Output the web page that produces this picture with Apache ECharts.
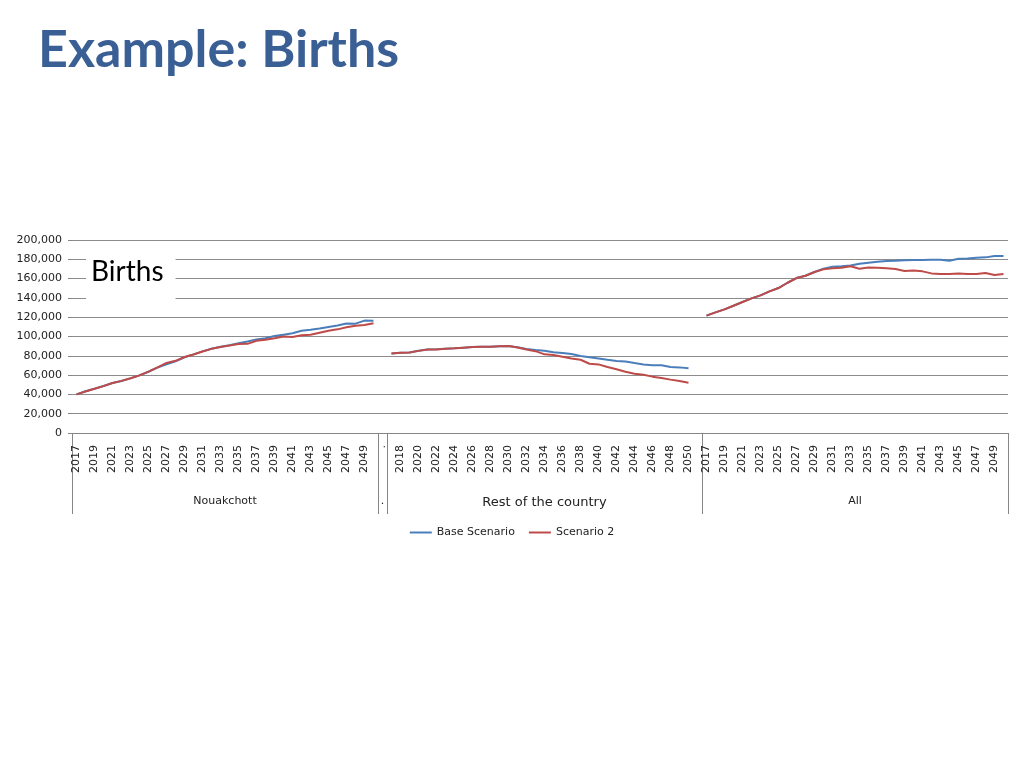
<!DOCTYPE html>
<html><head><meta charset="utf-8">
<script src="https://cdn.jsdelivr.net/npm/echarts@6/dist/echarts.min.js"></script>
<style>html,body{margin:0;padding:0;background:#fff}#c{width:1024px;height:768px}</style>
</head><body><div id="c"></div><script>
// ---- data ----
const years = ['2017','2018','2019','2020','2021','2022','2023','2024','2025','2026','2027','2028','2029','2030','2031','2032','2033','2034','2035','2036','2037','2038','2039','2040','2041','2042','2043','2044','2045','2046','2047','2048','2049','2050'];
const groupNames = ['Nouakchott', '.', 'Rest of the country', 'All'];
const seriesNames = ['Base Scenario', 'Scenario 2'];

const nkBase = [40000,43200,45900,48700,51800,53900,56600,59700,63500,67700,71200,74300,78500,81500,84600,87300,89300,91000,92900,94800,97000,98200,100500,101900,103300,106000,107000,108200,109800,111300,113400,113300,116500,116300];
const nkS2   = [40000,43000,45800,48600,51800,54000,56700,59700,63600,68000,72600,74800,78800,81400,84500,87200,89200,90600,92200,92400,95600,96700,98200,99900,99500,101300,101800,103900,106000,107400,109500,111200,112000,113800];

const restBase = [82500,83200,83500,85200,86500,86700,87300,87700,88400,89100,89400,89400,89800,90100,88800,87000,86000,85300,83600,82900,81800,79800,78400,77300,75900,74600,74200,72500,71100,70100,70100,68400,68000,67000];
const restS2   = [82500,83200,83400,85100,86500,86600,87300,87700,88400,89100,89400,89400,89800,90100,88600,86500,84800,81500,80800,79100,77300,75900,71800,71100,68400,66000,63500,61500,60400,58400,57000,55300,53900,52100];

const allBase = [121600,125000,128100,131900,135700,139500,142600,146800,150200,155700,160600,163000,166800,170300,172300,172700,173500,175400,176500,177500,178200,178500,178900,179200,179200,179600,179600,178500,180600,180900,181600,182000,183400,183400];
const allS2   = [121600,125000,128100,131900,135700,139500,142600,146800,150200,155700,160600,163000,166800,169600,170600,171300,172800,170300,171600,171300,170600,169900,167800,168500,167500,165400,164700,164700,165400,164700,164700,165800,163700,164700];

// ---- build axis / series from the arrays ----
const categories = years.concat(['.'], years, [''], years);
const baseData = nkBase.concat([null], restBase, [null], allBase);
const s2Data = nkS2.concat([null], restS2, [null], allS2);

const b1 = years.length, b2 = b1 + 1, b3 = b2 + years.length + 1, b4 = categories.length;
const groupStarts = [0, b1, b2, b3];
const groupCenters = [b1 / 2, (b1 + b2) / 2, (b2 + b3) / 2, (b3 + b4) / 2];

const FONT = 'DejaVu Sans';
const chart = echarts.init(document.getElementById('c'), null, {renderer: 'canvas'});
chart.setOption({
  animation: false,
  backgroundColor: '#ffffff',
  title: [
    {text: 'Example: Births', left: 33, top: 19,
     textStyle: {fontFamily: 'Lato', fontWeight: 'bold', fontSize: 52, color: '#3A5F94'}},
    {text: 'Births', left: 86, top: 246, padding: [12, 12, 17, 5], backgroundColor: '#ffffff',
     textStyle: {fontFamily: 'Lato', fontWeight: 'normal', fontSize: 28, color: '#000000'}}
  ],
  legend: {
    data: seriesNames, left: 'center', top: 522, icon: 'rect', itemWidth: 22, itemHeight: 2, itemGap: 14,
    textStyle: {fontFamily: FONT, fontSize: 11, color: '#222'}
  },
  grid: {left: 72, right: 16, top: 240, bottom: 335, containLabel: false},
  xAxis: [
    {
      type: 'category', data: categories, boundaryGap: true,
      axisLine: {show: true, lineStyle: {color: '#868686', width: 1}},
      axisTick: {show: true, length: 81, interval: function (i) { return groupStarts.indexOf(i) >= 0; },
                 lineStyle: {color: '#868686', width: 1}},
      axisLabel: {interval: function (i) { return i % 2 === 0; }, rotate: 90, margin: 12,
                  fontFamily: FONT, fontSize: 11, color: '#222'},
      splitLine: {show: false}
    },
    {
      type: 'value', min: 0, max: b4, position: 'bottom', offset: 55,
      axisLine: {show: false}, axisTick: {show: false}, splitLine: {show: false},
      axisLabel: {
        customValues: groupCenters, margin: 8, fontFamily: FONT, fontSize: 11, color: '#222',
        formatter: function (v) {
          const k = groupCenters.indexOf(v);
          if (k < 0) return '';
          return k === 2 ? '{big|' + groupNames[k] + '}' : groupNames[k];
        },
        rich: {big: {fontFamily: FONT, fontSize: 13, color: '#222'}}
      }
    }
  ],
  yAxis: {
    type: 'value', min: 0, max: 200000, interval: 20000,
    axisLine: {show: false},
    axisTick: {show: true, length: 4, lineStyle: {color: '#868686'}},
    axisLabel: {margin: 10, fontFamily: FONT, fontSize: 11, color: '#222',
                formatter: function (v) { return v.toLocaleString('en-US'); }},
    splitLine: {show: true, lineStyle: {color: '#8c8c8c', width: 1}}
  },
  series: [
    {name: seriesNames[0], type: 'line', data: baseData, symbol: 'none', connectNulls: false,
     lineStyle: {color: '#4A7EBB', width: 2}, itemStyle: {color: '#4A7EBB'}},
    {name: seriesNames[1], type: 'line', data: s2Data, symbol: 'none', connectNulls: false,
     lineStyle: {color: '#BE4B48', width: 2}, itemStyle: {color: '#BE4B48'}}
  ]
});
</script></body></html>
